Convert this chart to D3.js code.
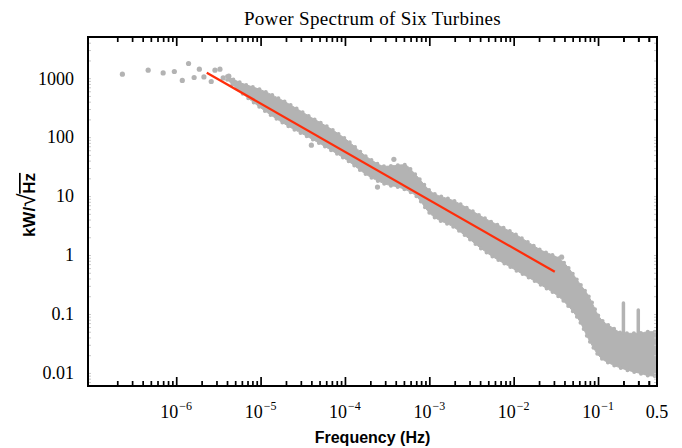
<!DOCTYPE html>
<html lang="en">

<head>
    <meta charset="UTF-8">
    <title>Power Spectrum of Six Turbines</title>
    <script src="https://d3js.org/d3.v7.min.js"></script>
    <style>
        body { margin: 0; background: #fff; }
    </style>
</head>

<body>
    <svg id="spectrum" width="682" height="448"></svg>

    <script>
        // ---- values ----

        // single points that stand apart from the main cloud
        const looseFreq = [2.3e-7, 4.65e-7, 7.0e-7, 9.5e-7, 1.18e-6, 1.4e-6, 1.63e-6, 1.88e-6, 2.13e-6, 2.6e-6, 2.88e-6, 3.3e-6, 3.6e-6, 4.2e-6, 4.0e-5, 2.43e-4, 3.8e-4, 0.037];
        const loosePower = [1170, 1370, 1230, 1300, 915, 1775, 1027, 1420, 1052, 879, 1367, 1420, 1012, 1081, 73, 14.2, 42, 0.92];

        // upper and lower edge of the dense cloud of points
        const bandFreq = [4e-6, 6e-6, 1e-5, 2e-5, 4e-5, 7e-5, 1e-4, 2e-4, 3e-4, 5e-4, 7e-4, 1e-3, 2e-3, 5e-3, 1e-2, 2e-2, 4e-2, 6e-2, 8e-2, 0.1, 0.15, 0.2, 0.3, 0.4, 0.5];
        const bandUpper = [1080, 820, 640, 390, 215, 135, 95, 42, 32, 34, 22.5, 12.6, 8.2, 3.9, 2.35, 1.26, 0.73, 0.335, 0.185, 0.096, 0.058, 0.047, 0.047, 0.05, 0.05];
        const bandLower = [950, 560, 315, 162, 94, 59, 43, 21, 16, 13.2, 10, 5.2, 2.9, 1.05, 0.58, 0.325, 0.16, 0.077, 0.034, 0.0203, 0.0137, 0.0117, 0.01, 0.009, 0.0088];

        // narrow peaks near the top end
        const peakFreq = [0.2, 0.3];
        const peakPower = [0.153, 0.117];
        const peakBase = [0.047, 0.047];

        // fitted power law (red line)
        const fitFreq = [2.3e-6, 0.0307];
        const fitPower = [1240, 0.52];

        // axis labels
        const xTickValues = [1e-6, 1e-5, 1e-4, 1e-3, 1e-2, 1e-1, 0.5];
        const xTickBase = ["10", "10", "10", "10", "10", "10", "0.5"];
        const xTickExp = ["−6", "−5", "−4", "−3", "−2", "−1", ""];
        const yTickValues = [1000, 100, 10, 1, 0.1, 0.01];
        const yTickLabels = ["1000", "100", "10", "1", "0.1", "0.01"];

        // ---- chart ----
        const margin = { top: 37, right: 25, bottom: 62, left: 88 };
        const width = 682;
        const height = 448;

        const svg = d3.select("#spectrum");

        const x = d3.scaleLog()
            .domain([9e-8, 0.5])
            .range([margin.left, width - margin.right]);

        const y = d3.scaleLog()
            .domain([0.006, 5000])
            .range([height - margin.bottom, margin.top]);

        const dotColor = "#b3b3b3";

        svg.append("clipPath")
            .attr("id", "plot-clip")
            .append("rect")
            .attr("x", margin.left)
            .attr("y", margin.top)
            .attr("width", width - margin.left - margin.right)
            .attr("height", height - margin.top - margin.bottom);

        const plot = svg.append("g").attr("clip-path", "url(#plot-clip)");

        // dense cloud
        const band = bandFreq.map((f, i) => ({ f: f, hi: bandUpper[i], lo: bandLower[i] }));
        const area = d3.area()
            .x(d => x(d.f))
            .y0(d => y(d.lo))
            .y1(d => y(d.hi))
            .curve(d3.curveMonotoneX);

        plot.append("path")
            .datum(band)
            .attr("d", area)
            .attr("fill", dotColor)
            .attr("stroke", dotColor)
            .attr("stroke-width", 1)
            .attr("stroke-linejoin", "round");

        // round dots along the edge so it reads as a point cloud
        plot.append("path")
            .datum(band)
            .attr("d", area)
            .attr("fill", "none")
            .attr("stroke", dotColor)
            .attr("stroke-width", 4)
            .attr("stroke-linecap", "round")
            .attr("stroke-dasharray", "0,7");

        // peaks
        plot.selectAll(".peak")
            .data(peakFreq)
            .enter().append("line")
            .attr("class", "peak")
            .attr("x1", d => x(d))
            .attr("x2", d => x(d))
            .attr("y1", (d, i) => y(peakBase[i]))
            .attr("y2", (d, i) => y(peakPower[i]))
            .attr("stroke", dotColor)
            .attr("stroke-width", 3.5)
            .attr("stroke-linecap", "round");

        // loose points
        plot.selectAll(".dot")
            .data(looseFreq)
            .enter().append("circle")
            .attr("class", "dot")
            .attr("cx", d => x(d))
            .attr("cy", (d, i) => y(loosePower[i]))
            .attr("r", 2.6)
            .attr("fill", dotColor);

        // fit line
        plot.append("path")
            .datum(fitFreq.map((f, i) => [f, fitPower[i]]))
            .attr("d", d3.line().x(d => x(d[0])).y(d => y(d[1])))
            .attr("fill", "none")
            .attr("stroke", "#ff2d0a")
            .attr("stroke-width", 2.2);

        // x ticks, pointing inwards top and bottom
        const allX = x.ticks().concat([2e-1, 3e-1, 4e-1]).filter(v => v > 1.05e-7 && v < 0.49);
        const majorX = allX.filter(v => Math.abs(Math.log10(v) - Math.round(Math.log10(v))) < 1e-6);
        const minorX = allX.filter(v => !majorX.includes(v));

        function tickRow(values, size, yPos, axisFn) {
            svg.append("g")
                .attr("transform", `translate(0,${yPos})`)
                .call(axisFn(x).tickValues(values).tickSize(size).tickFormat(""))
                .call(g => g.select(".domain").remove())
                .call(g => g.selectAll("line").attr("stroke", "#000").attr("stroke-width", 1.7));
        }
        tickRow(majorX, -9, height - margin.bottom, d3.axisBottom);
        tickRow(minorX, -5, height - margin.bottom, d3.axisBottom);
        tickRow(majorX, -9, margin.top, d3.axisTop);
        tickRow(minorX, -5, margin.top, d3.axisTop);

        // faint y ticks on both sides
        const allY = y.ticks();
        [[d3.axisLeft, margin.left], [d3.axisRight, width - margin.right]].forEach(([fn, pos]) => {
            svg.append("g")
                .attr("transform", `translate(${pos},0)`)
                .call(fn(y).tickValues(allY).tickSize(-3).tickFormat(""))
                .call(g => g.select(".domain").remove())
                .call(g => g.selectAll("line").attr("stroke", "#c8c8c8").attr("stroke-width", 1));
        });

        // frame
        svg.append("rect")
            .attr("x", margin.left)
            .attr("y", margin.top)
            .attr("width", width - margin.left - margin.right)
            .attr("height", height - margin.top - margin.bottom)
            .attr("fill", "none")
            .attr("stroke", "#000")
            .attr("stroke-width", 2);

        // y tick labels
        svg.selectAll(".ylab")
            .data(yTickValues)
            .enter().append("text")
            .attr("class", "ylab")
            .attr("x", 74)
            .attr("y", d => y(d))
            .attr("dy", "0.35em")
            .attr("text-anchor", "end")
            .style("font-family", "'Liberation Serif', 'Times New Roman', serif")
            .style("font-size", "18px")
            .text((d, i) => yTickLabels[i]);

        // x tick labels with superscripts
        const xlab = svg.selectAll(".xlab")
            .data(xTickValues)
            .enter().append("text")
            .attr("class", "xlab")
            .attr("x", d => x(d))
            .attr("y", 418)
            .attr("text-anchor", "middle")
            .style("font-family", "'Liberation Serif', 'Times New Roman', serif")
            .style("font-size", "18px");
        xlab.append("tspan").text((d, i) => xTickBase[i]);
        xlab.append("tspan")
            .attr("dy", -8)
            .attr("dx", 1)
            .style("font-size", "12px")
            .text((d, i) => xTickExp[i]);

        // title
        svg.append("text")
            .attr("x", (margin.left + width - margin.right) / 2)
            .attr("y", 25)
            .attr("text-anchor", "middle")
            .style("font-family", "'Liberation Serif', 'Times New Roman', serif")
            .style("font-size", "19px")
            .style("letter-spacing", "0.3px")
            .text("Power Spectrum of Six Turbines");

        // x axis title
        svg.append("text")
            .attr("x", (margin.left + width - margin.right) / 2)
            .attr("y", 443)
            .attr("text-anchor", "middle")
            .style("font-family", "'Liberation Sans', Arial, sans-serif")
            .style("font-size", "16px")
            .style("font-weight", "bold")
            .text("Frequency (Hz)");

        // y axis title: kW/sqrt(Hz) with an overbar on Hz
        const ylabel = svg.append("text")
            .attr("transform", "translate(35,205) rotate(-90)")
            .attr("text-anchor", "middle")
            .style("font-family", "'Liberation Sans', Arial, sans-serif")
            .style("font-size", "17px")
            .style("font-weight", "bold");
        ylabel.append("tspan").text("kW/");
        ylabel.append("tspan").style("font-weight", "normal").style("font-size", "24px").text("√");
        ylabel.append("tspan").style("text-decoration", "overline").text("Hz");
    </script>
</body>

</html>
